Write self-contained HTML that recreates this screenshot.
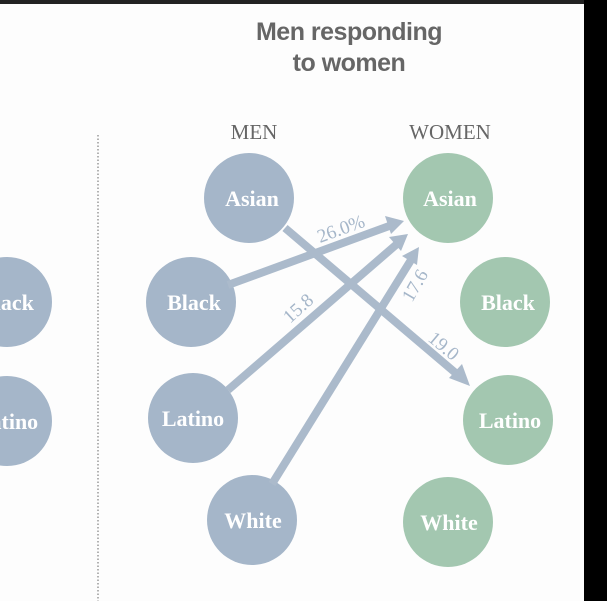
<!DOCTYPE html>
<html><head><meta charset="utf-8"><style>
html,body{margin:0;padding:0;background:#fff;}
</style></head><body>
<svg width="607" height="601" viewBox="0 0 607 601" xmlns="http://www.w3.org/2000/svg">
<rect x="0" y="0" width="607" height="601" fill="#fdfdfd"/>
<rect x="0" y="0" width="607" height="4" fill="#222"/>
<rect x="584" y="0" width="23" height="601" fill="#000"/>
<text x="349" y="40" text-anchor="middle" font-family="Liberation Sans, sans-serif" font-weight="bold" font-size="25" fill="#666" letter-spacing="-0.5">Men responding</text>
<text x="349" y="71" text-anchor="middle" font-family="Liberation Sans, sans-serif" font-weight="bold" font-size="25" fill="#666" letter-spacing="-0.5">to women</text>
<text x="254" y="139" text-anchor="middle" font-family="Liberation Serif, serif" font-size="21" fill="#666">MEN</text>
<text x="450" y="139" text-anchor="middle" font-family="Liberation Serif, serif" font-size="21" fill="#666">WOMEN</text>
<line x1="98" y1="135" x2="98" y2="601" stroke="#999" stroke-width="1.5" stroke-dasharray="1.5,2"/>
<g fill="#a5b6c9">
<circle cx="7" cy="302" r="45"/><circle cx="7" cy="421" r="45"/>
<circle cx="249" cy="198" r="45"/><circle cx="191" cy="302" r="45"/>
<circle cx="193" cy="418" r="45"/><circle cx="252" cy="520" r="45"/>
</g>
<g fill="#a3c7b0">
<circle cx="448" cy="198" r="45"/><circle cx="505" cy="302" r="45"/>
<circle cx="508" cy="420" r="45"/><circle cx="448" cy="522" r="45"/>
</g>
<g stroke="#abbacb" stroke-width="8" fill="none">
<line x1="228" y1="285" x2="392" y2="225"/>
<line x1="228" y1="390" x2="397" y2="244"/>
<line x1="272" y1="484" x2="411" y2="260"/>
<line x1="285" y1="228" x2="458" y2="375"/>
</g>
<g fill="#abbacb">
<polygon points="404,221 385,216 391,234"/>
<polygon points="408,234 389,237 401,251"/>
<polygon points="419,247 402,256 417,265"/>
<polygon points="470,386 449,378 462,364"/>
</g>
<g font-family="Liberation Serif, serif" font-size="19" fill="#a5b6c9">
<text transform="translate(320,243) rotate(-20)">26.0%</text>
<text transform="translate(290,324) rotate(-42)">15.8</text>
<text transform="translate(412,303) rotate(-60)">17.6</text>
<text transform="translate(427,340) rotate(40)">19.0</text>
</g>
<g font-family="Liberation Serif, serif" font-weight="bold" font-size="22" fill="#fff" text-anchor="middle">
<text x="7" y="310">Black</text><text x="7" y="429">Latino</text>
<text x="252" y="206">Asian</text><text x="194" y="310">Black</text>
<text x="193" y="426">Latino</text><text x="253" y="528">White</text>
<text x="450" y="206">Asian</text><text x="508" y="310">Black</text>
<text x="510" y="428">Latino</text><text x="449" y="530">White</text>
</g>
</svg>
</body></html>
